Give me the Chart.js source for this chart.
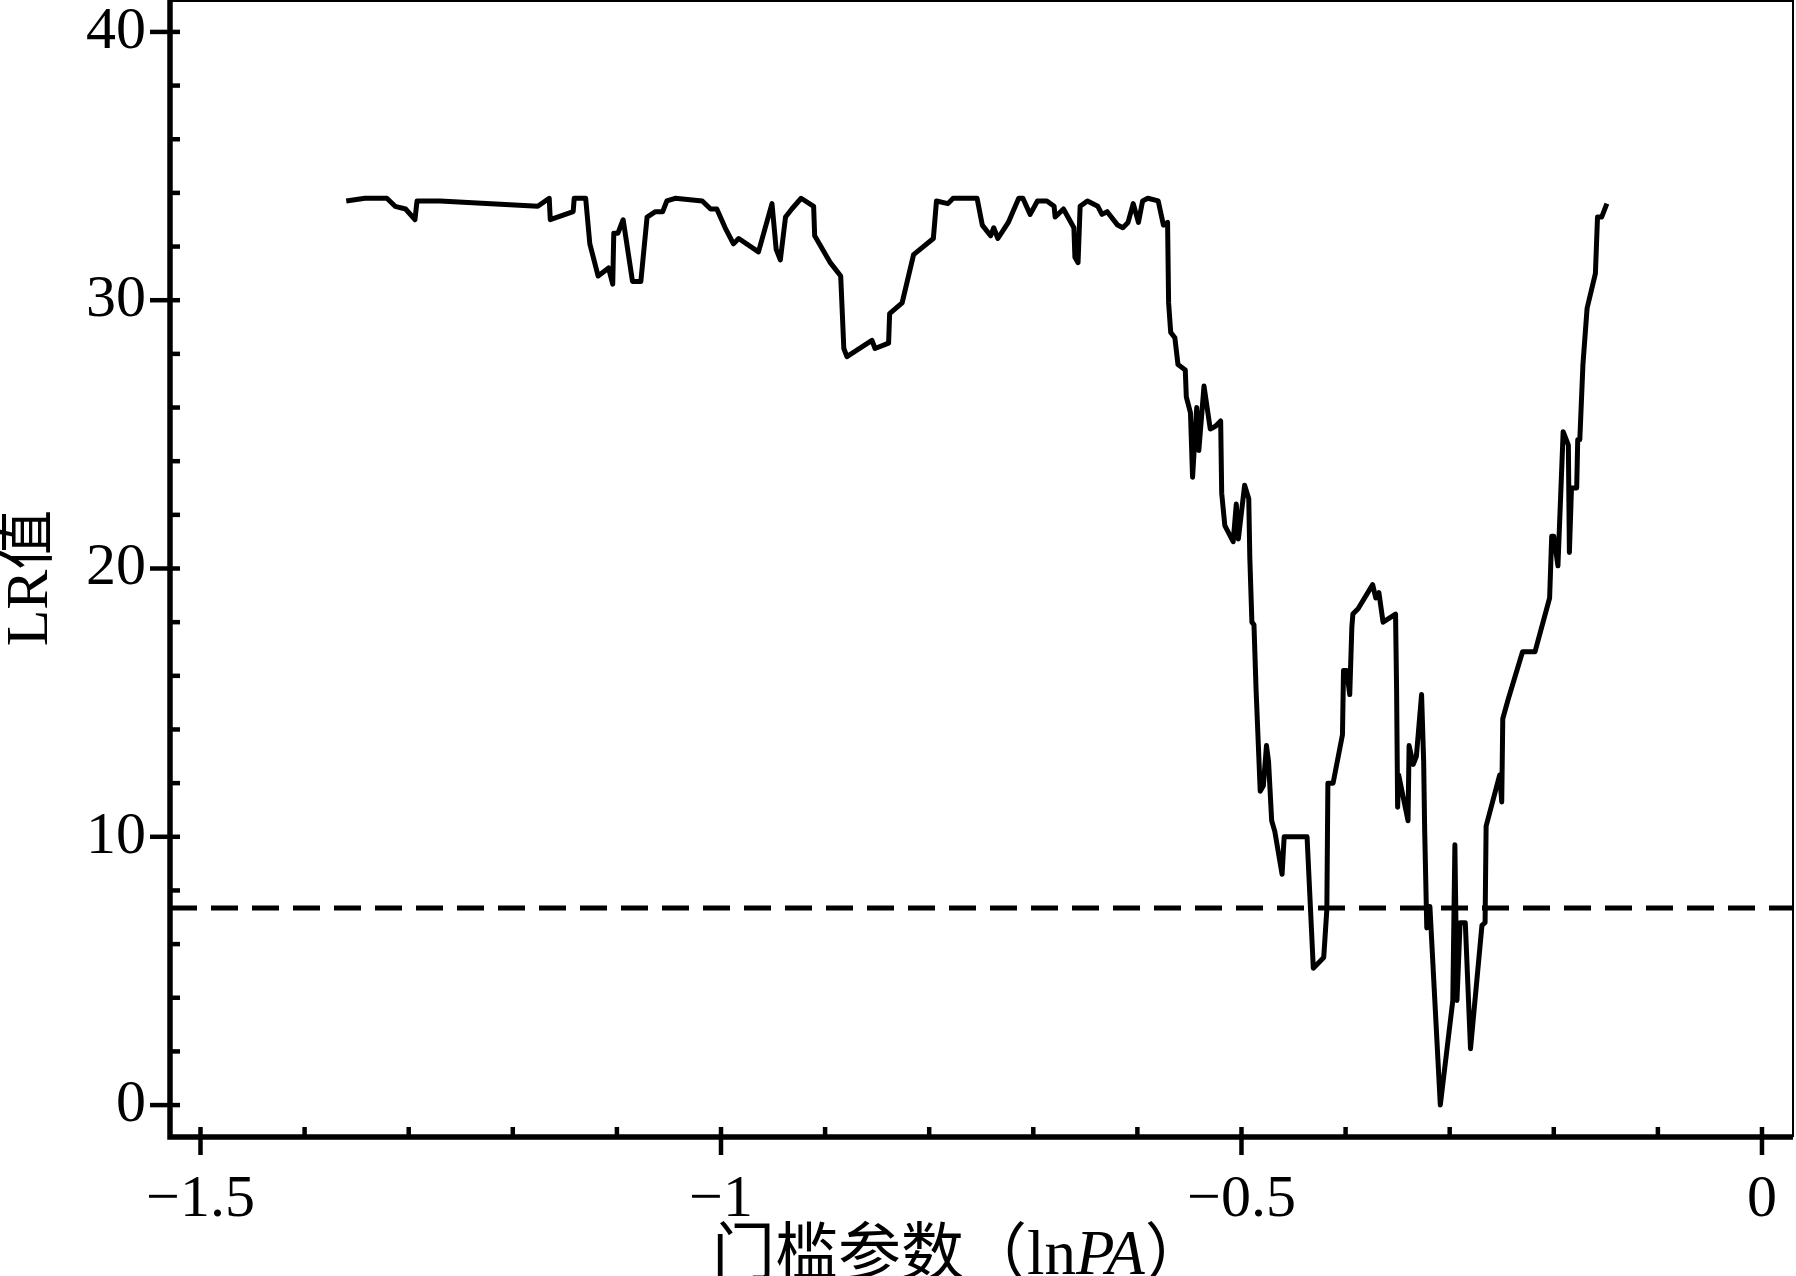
<!DOCTYPE html>
<html>
<head>
<meta charset="utf-8">
<title>LR值 - 门槛参数</title>
<script src="https://cdn.jsdelivr.net/npm/chart.js@4.4.1/dist/chart.umd.min.js"></script>
<style>
  html, body { margin: 0; padding: 0; background: #fff; }
  #wrap { width: 1796px; height: 1276px; }
</style>
</head>
<body>
<div id="wrap"><canvas id="lr-chart" width="1796" height="1276"></canvas></div>
<script>
(function() {
  'use strict';

  // threshold parameter (lnPA) and likelihood ratio
  var LR_X = [
    -1.360, -1.342, -1.321, -1.313, -1.303, -1.294, -1.292, -1.270, -1.176, -1.165,
    -1.164, -1.142, -1.141, -1.130, -1.126, -1.118, -1.108, -1.104, -1.103, -1.099,
    -1.094, -1.085, -1.077, -1.071, -1.063, -1.056, -1.052, -1.044, -1.018, -1.010,
    -1.004, -0.996, -0.988, -0.983, -0.964, -0.951, -0.947, -0.943, -0.938, -0.932,
    -0.923, -0.911, -0.910, -0.904, -0.895, -0.885, -0.882, -0.879, -0.855, -0.852,
    -0.839, -0.838, -0.826, -0.815, -0.796, -0.793, -0.782, -0.777, -0.754, -0.749,
    -0.741, -0.738, -0.734, -0.724, -0.714, -0.710, -0.703, -0.696, -0.687, -0.680,
    -0.679, -0.671, -0.661, -0.660, -0.657, -0.655, -0.648, -0.638, -0.634, -0.629,
    -0.619, -0.614, -0.609, -0.604, -0.599, -0.595, -0.590, -0.580, -0.575, -0.571,
    -0.570, -0.568, -0.564, -0.561, -0.554, -0.553, -0.549, -0.547, -0.543, -0.541,
    -0.536, -0.530, -0.525, -0.520, -0.519, -0.516, -0.508, -0.505, -0.503, -0.497,
    -0.493, -0.492, -0.490, -0.488, -0.486, -0.482, -0.479, -0.476, -0.474, -0.471,
    -0.468, -0.461, -0.459, -0.437, -0.431, -0.421, -0.418, -0.417, -0.412, -0.403,
    -0.402, -0.399, -0.396, -0.394, -0.393, -0.388, -0.374, -0.371, -0.368, -0.364,
    -0.352, -0.351, -0.350, -0.349, -0.340, -0.339, -0.335, -0.332, -0.327, -0.325,
    -0.324, -0.322, -0.319, -0.309, -0.297, -0.295, -0.293, -0.290, -0.285, -0.280,
    -0.269, -0.266, -0.265, -0.252, -0.250, -0.249, -0.244, -0.230, -0.218, -0.204,
    -0.202, -0.200, -0.196, -0.191, -0.186, -0.185, -0.183, -0.178, -0.177, -0.175,
    -0.172, -0.168, -0.160, -0.158, -0.154, -0.149
  ];
  var LR_Y = [
    33.7, 33.8, 33.8, 33.5, 33.4, 33.0, 33.7, 33.7, 33.5, 33.8,
    33.0, 33.3, 33.8, 33.8, 32.1, 30.9, 31.2, 30.6, 32.5, 32.5,
    33.0, 30.7, 30.7, 33.1, 33.3, 33.3, 33.7, 33.8, 33.7, 33.4,
    33.4, 32.7, 32.1, 32.3, 31.8, 33.6, 31.9, 31.5, 33.1, 33.4,
    33.8, 33.5, 32.4, 32.0, 31.4, 30.9, 28.2, 27.9, 28.5, 28.2,
    28.4, 29.5, 29.9, 31.7, 32.3, 33.7, 33.6, 33.8, 33.8, 32.8,
    32.4, 32.7, 32.3, 32.9, 33.8, 33.8, 33.2, 33.7, 33.7, 33.5,
    33.1, 33.4, 32.7, 31.6, 31.4, 33.5, 33.7, 33.5, 33.2, 33.3,
    32.8, 32.7, 32.9, 33.6, 32.9, 33.7, 33.8, 33.7, 32.8, 32.9,
    29.9, 28.8, 28.6, 27.6, 27.4, 26.4, 25.8, 23.4, 26.0, 24.4,
    26.8, 25.2, 25.3, 25.5, 22.8, 21.6, 21.0, 22.4, 21.1, 23.1,
    22.6, 20.4, 18.0, 17.9, 15.5, 11.7, 11.9, 13.4, 12.8, 10.6,
    10.2, 8.6, 10.0, 10.0, 5.1, 5.5, 7.3, 12.0, 12.0, 13.8,
    16.2, 16.2, 15.3, 17.8, 18.3, 18.5, 19.4, 18.9, 19.1, 18.0,
    18.3, 15.5, 11.1, 12.3, 10.6, 13.4, 12.7, 13.0, 15.3, 12.8,
    10.2, 6.6, 7.4, 0.0, 3.9, 9.7, 3.9, 6.8, 6.8, 2.1,
    6.7, 6.8, 10.4, 12.3, 11.3, 14.4, 15.1, 16.9, 16.9, 18.9,
    21.2, 21.2, 20.1, 25.1, 24.6, 20.6, 23.0, 23.0, 24.8, 24.8,
    27.6, 29.7, 31.0, 33.1, 33.1, 33.6
  ];

  // 95% critical value (dashed line)
  var CRITICAL_LR = 7.35;

  var X_TICKS = [-1.5, -1, -0.5, 0];
  var X_TICK_LABELS = ['\u22121.5', '\u22121', '\u22120.5', '0'];
  var X_MINOR_TICKS = [-1.4, -1.3, -1.2, -1.1, -0.9, -0.8, -0.7, -0.6,
                       -0.4, -0.3, -0.2, -0.1];
  var Y_TICKS = [0, 10, 20, 30, 40];
  var Y_TICK_LABELS = ['0', '10', '20', '30', '40'];
  var Y_MINOR_TICKS = [2, 4, 6, 8, 12, 14, 16, 18, 22, 24, 26, 28, 32, 34, 36, 38];

  var X_RANGE = [-1.5293, 0.0298];
  var Y_RANGE = [-1.19, 41.19];

  var X_TITLE_PARTS = [
    { text: '门槛参数（ln', italic: false },
    { text: 'PA', italic: true },
    { text: '）', italic: false }
  ];
  var Y_TITLE = 'LR值';

  var INK = '#000000';
  var FONT = "'Liberation Serif', 'Noto Sans CJK SC', serif";

  function seg(ctx, x1, y1, x2, y2) {
    ctx.beginPath();
    ctx.moveTo(x1, y1);
    ctx.lineTo(x2, y2);
    ctx.stroke();
  }

  function noPadding(scale) {
    scale.paddingTop = 0;
    scale.paddingBottom = 0;
    scale.paddingLeft = 0;
    scale.paddingRight = 0;
  }

  // frame, inner/outer tick marks and axis titles
  var framePlugin = {
    id: 'frameTicks',
    afterDraw: function(chart) {
      var ctx = chart.ctx;
      var a = chart.chartArea;
      var xs = chart.scales.x;
      var ys = chart.scales.y;

      ctx.save();
      ctx.strokeStyle = INK;
      ctx.fillStyle = INK;
      ctx.lineCap = 'butt';

      // thin top and right edges
      ctx.lineWidth = 2;
      ctx.beginPath();
      ctx.moveTo(a.left, a.top + 1);
      ctx.lineTo(a.right, a.top + 1);
      ctx.lineTo(a.right, a.bottom);
      ctx.stroke();

      // heavy left and bottom axes
      ctx.lineWidth = 5.5;
      ctx.lineJoin = 'miter';
      ctx.beginPath();
      ctx.moveTo(a.left, a.top);
      ctx.lineTo(a.left, a.bottom);
      ctx.lineTo(a.right, a.bottom);
      ctx.stroke();

      ctx.lineWidth = 4.5;
      X_TICKS.forEach(function(v) {
        var px = xs.getPixelForValue(v);
        seg(ctx, px, a.bottom - 10, px, a.bottom + 18);
      });
      X_MINOR_TICKS.forEach(function(v) {
        var px = xs.getPixelForValue(v);
        seg(ctx, px, a.bottom - 10, px, a.bottom);
      });
      Y_TICKS.forEach(function(v) {
        var py = ys.getPixelForValue(v);
        seg(ctx, a.left - 20, py, a.left + 10, py);
      });
      Y_MINOR_TICKS.forEach(function(v) {
        var py = ys.getPixelForValue(v);
        seg(ctx, a.left, py, a.left + 10, py);
      });

      // y title, rotated
      ctx.save();
      ctx.translate(31, 578);
      ctx.rotate(-Math.PI / 2);
      ctx.font = '60px ' + FONT;
      ctx.textAlign = 'center';
      ctx.textBaseline = 'middle';
      ctx.fillText(Y_TITLE, 0, 0);
      ctx.restore();

      // x title with italic PA
      var tx = 712;
      var ty = 1274;
      ctx.textAlign = 'left';
      ctx.textBaseline = 'alphabetic';
      X_TITLE_PARTS.forEach(function(p) {
        ctx.font = (p.italic ? 'italic ' : '') + '63px ' + FONT;
        ctx.fillText(p.text, tx, ty);
        tx += ctx.measureText(p.text).width;
      });

      ctx.restore();
    }
  };

  var points = LR_X.map(function(x, i) { return { x: x, y: LR_Y[i] }; });

  new Chart(document.getElementById('lr-chart'), {
    type: 'scatter',
    data: {
      datasets: [
        {
          label: 'LR',
          data: points,
          showLine: true,
          borderColor: INK,
          borderWidth: 5,
          borderJoinStyle: 'round',
          pointRadius: 0,
          tension: 0
        },
        {
          label: '临界值',
          data: [{ x: X_RANGE[0], y: CRITICAL_LR }, { x: X_RANGE[1], y: CRITICAL_LR }],
          showLine: true,
          borderColor: INK,
          borderWidth: 5,
          borderDash: [27, 14],
          pointRadius: 0
        }
      ]
    },
    options: {
      responsive: false,
      animation: false,
      devicePixelRatio: 1,
      layout: { padding: { left: 0, right: 3, top: 0, bottom: 0 } },
      plugins: {
        legend: { display: false },
        tooltip: { enabled: false }
      },
      scales: {
        x: {
          type: 'linear',
          position: 'bottom',
          min: X_RANGE[0],
          max: X_RANGE[1],
          afterBuildTicks: function(scale) {
            scale.ticks = X_TICKS.map(function(v) { return { value: v }; });
          },
          afterFit: function(scale) {
            scale.height = 139;
            noPadding(scale);
          },
          grid: { display: false, drawTicks: false },
          border: { display: false },
          ticks: {
            autoSkip: false,
            maxRotation: 0,
            padding: 33,
            color: INK,
            font: { family: FONT, size: 60, lineHeight: 1 },
            callback: function(value) {
              var i = X_TICKS.indexOf(value);
              return i >= 0 ? X_TICK_LABELS[i] : '';
            }
          }
        },
        y: {
          type: 'linear',
          min: Y_RANGE[0],
          max: Y_RANGE[1],
          afterBuildTicks: function(scale) {
            scale.ticks = Y_TICKS.map(function(v) { return { value: v }; });
          },
          afterFit: function(scale) {
            scale.width = 170;
            noPadding(scale);
          },
          grid: { display: false, drawTicks: false },
          border: { display: false },
          ticks: {
            autoSkip: false,
            padding: 24,
            color: INK,
            font: { family: FONT, size: 60, lineHeight: 1 },
            callback: function(value) {
              var i = Y_TICKS.indexOf(value);
              return i >= 0 ? Y_TICK_LABELS[i] : '';
            }
          }
        }
      }
    },
    plugins: [framePlugin]
  });
})();
</script>
</body>
</html>
